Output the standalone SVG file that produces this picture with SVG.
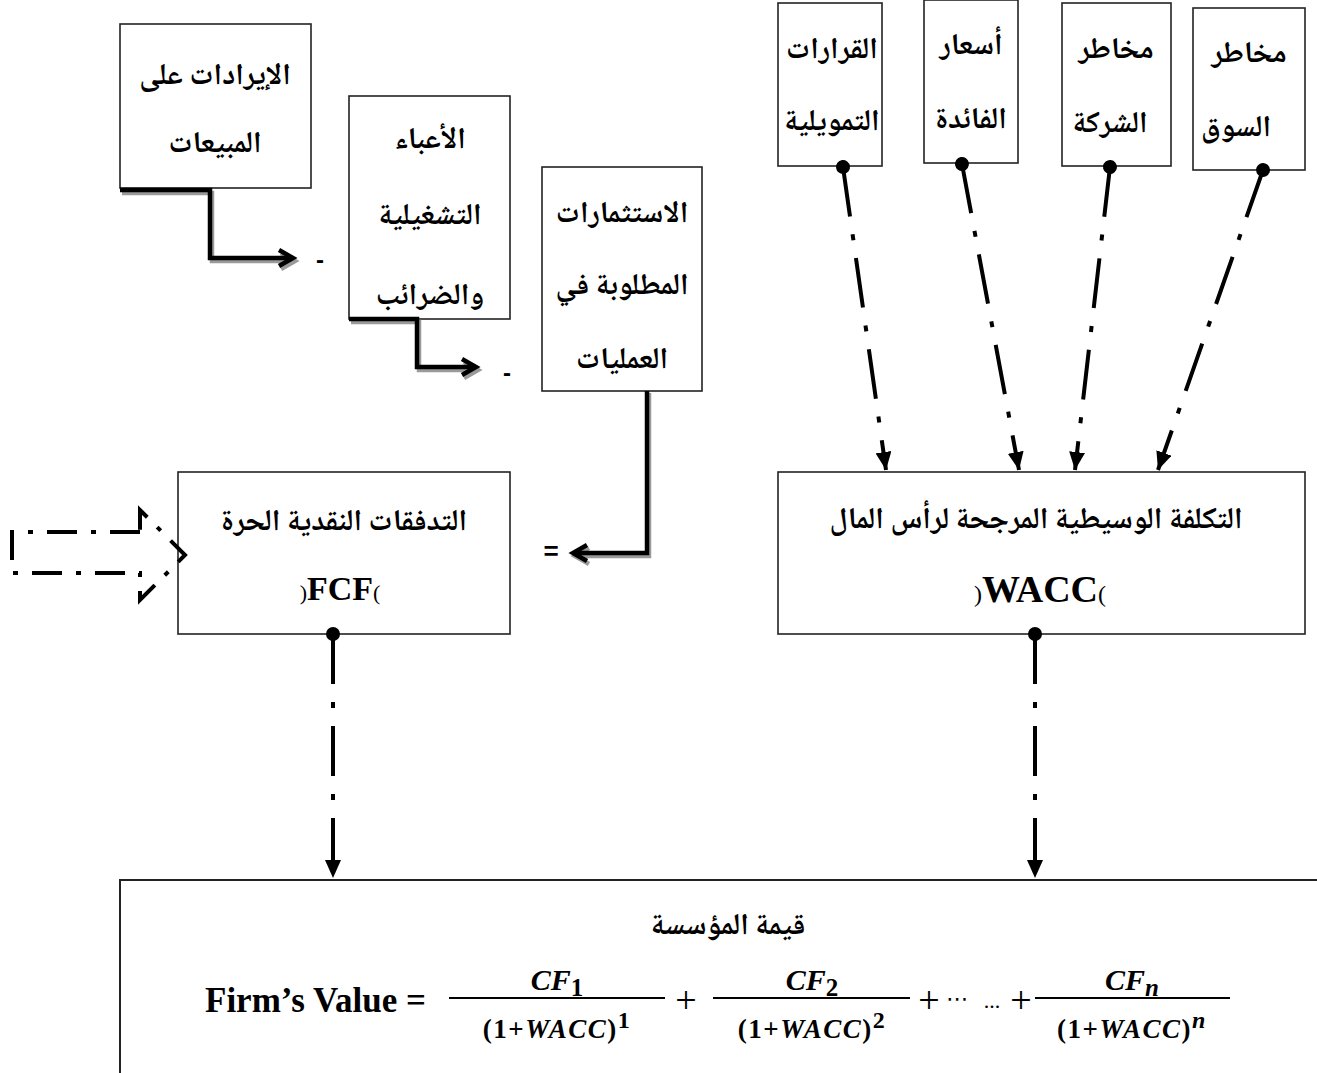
<svg xmlns="http://www.w3.org/2000/svg" width="1317" height="1073" viewBox="0 0 1317 1073">
<style>
.box{fill:#fff;stroke:#222;stroke-width:1.6}
.ar{font-family:'Noto Naskh Arabic','Amiri','DejaVu Sans','Noto Sans',sans-serif;font-weight:bold;font-size:30px;fill:#000;text-anchor:middle}
.lat{font-family:'Liberation Serif','Times New Roman',serif;font-weight:bold;fill:#000}
.dd{fill:none;stroke:#000;stroke-width:4;stroke-dasharray:50 18 6 18}
.elb{fill:none;stroke:#000;stroke-width:4.5}
.sh{fill:none;stroke:#9a9a9a;stroke-width:4.5}
.mth{font-family:'Liberation Serif','Times New Roman',serif;font-weight:bold;font-style:italic;fill:#000;text-anchor:middle}
.up{font-family:'Liberation Serif','Times New Roman',serif;font-weight:bold;font-style:normal}
.den{font-size:27px;letter-spacing:1.5px}
.op{font-family:'Liberation Serif',serif;font-size:38px;text-anchor:middle}
</style>
<defs>
<marker id="tri" markerUnits="userSpaceOnUse" markerWidth="18" markerHeight="16" refX="18" refY="8" orient="auto" viewBox="0 0 18 16">
<path d="M0,0 L18,8 L0,16 z" fill="#000"/>
</marker>
<marker id="dot" markerUnits="userSpaceOnUse" markerWidth="16" markerHeight="16" refX="8" refY="8" orient="auto" viewBox="0 0 16 16">
<circle cx="8" cy="8" r="7" fill="#000"/>
</marker>
<marker id="chev" markerUnits="userSpaceOnUse" markerWidth="22" markerHeight="22" refX="17" refY="11" orient="auto" viewBox="0 0 22 22">
<path d="M3,3 L17,11 L3,19" fill="none" stroke="#000" stroke-width="4.5" stroke-linejoin="miter"/>
</marker>
<marker id="chevs" markerUnits="userSpaceOnUse" markerWidth="22" markerHeight="22" refX="17" refY="11" orient="auto" viewBox="0 0 22 22">
<path d="M3,3 L17,11 L3,19" fill="none" stroke="#9a9a9a" stroke-width="4.5"/>
</marker>
</defs>

<g id="n-revenue">
<rect class="box" x="120" y="24" width="191" height="164"/>
<text class="ar" x="215" y="84">الإيرادات على</text>
<text class="ar" x="215" y="152">المبيعات</text>
</g>
<g id="n-opex">
<rect class="box" x="349" y="96" width="161" height="223"/>
<text class="ar" x="430" y="148">الأعباء</text>
<text class="ar" x="430" y="224">التشغيلية</text>
<text class="ar" x="430" y="304">والضرائب</text>
</g>
<g id="n-invest">
<rect class="box" x="542" y="167" width="160" height="224"/>
<text class="ar" x="622" y="222">الاستثمارات</text>
<text class="ar" x="622" y="294">المطلوبة في</text>
<text class="ar" x="622" y="368">العمليات</text>
</g>
<g id="n-fcf">
<rect class="box" x="178" y="472" width="332" height="162"/>
<text class="ar" x="344" y="530" font-size="31">التدفقات النقدية الحرة</text>
<text class="lat" x="340" y="600" font-size="34" text-anchor="middle"><tspan font-size="22" font-weight="normal">)</tspan>FCF<tspan font-size="22" font-weight="normal">(</tspan></text>
</g>
<g id="n-wacc">
<rect class="box" x="778" y="472" width="527" height="162"/>
<text class="ar" x="1036" y="528" font-size="33">التكلفة الوسيطية المرجحة لرأس المال</text>
<text class="lat" x="1040" y="602" font-size="38" text-anchor="middle"><tspan font-size="24" font-weight="normal">)</tspan>WACC<tspan font-size="24" font-weight="normal">(</tspan></text>
</g>
<g id="n-finance">
<rect class="box" x="778" y="3" width="104" height="163"/>
<text class="ar" x="832" y="58">القرارات</text>
<text class="ar" x="832" y="130">التمويلية</text>
</g>
<g id="n-interest">
<rect class="box" x="924" y="0" width="94" height="163"/>
<text class="ar" x="971" y="54">أسعار</text>
<text class="ar" x="971" y="128">الفائدة</text>
</g>
<g id="n-firmrisk">
<rect class="box" x="1062" y="3" width="109" height="163"/>
<text class="ar" x="1116" y="58">مخاطر</text>
<text class="ar" x="1110" y="132">الشركة</text>
</g>
<g id="n-marketrisk">
<rect class="box" x="1193" y="8" width="112" height="162"/>
<text class="ar" x="1249" y="62">مخاطر</text>
<text class="ar" x="1236" y="136">السوق</text>
</g>
<g id="n-value">
<path d="M120,1080 V880 H1330" fill="none" stroke="#222" stroke-width="2"/>
<text class="ar" x="728" y="934" font-size="32">قيمة المؤسسة</text>
<text class="lat" x="205" y="1012" font-size="35">Firm’s Value =</text>
<g>
<text class="mth" x="557" y="990" font-size="30">CF<tspan class="up" dy="6" font-size="25">1</tspan></text>
<line x1="449" y1="998" x2="665" y2="998" stroke="#000" stroke-width="2"/>
<text class="mth den" x="557" y="1038"><tspan class="up">(1+</tspan>WACC<tspan class="up">)</tspan><tspan class="up" dy="-10" font-size="24">1</tspan></text>
</g>
<text class="op" x="686" y="1013">+</text>
<g>
<text class="mth" x="812" y="990" font-size="30">CF<tspan class="up" dy="6" font-size="25">2</tspan></text>
<line x1="713" y1="998" x2="910" y2="998" stroke="#000" stroke-width="2"/>
<text class="mth den" x="812" y="1038"><tspan class="up">(1+</tspan>WACC<tspan class="up">)</tspan><tspan class="up" dy="-10" font-size="24">2</tspan></text>
</g>
<text class="op" x="929" y="1013">+</text>
<text x="957" y="1006" font-family="'DejaVu Sans',sans-serif" font-size="22" text-anchor="middle">⋯</text>
<text x="992" y="1008" font-family="'Liberation Serif',serif" font-size="22" text-anchor="middle">...</text>
<text class="op" x="1021" y="1013">+</text>
<g>
<text class="mth" x="1132" y="990" font-size="30">CF<tspan dy="6" font-size="25">n</tspan></text>
<line x1="1035" y1="998" x2="1230" y2="998" stroke="#000" stroke-width="2"/>
<text class="mth den" x="1132" y="1038"><tspan class="up">(1+</tspan>WACC<tspan class="up">)</tspan><tspan dy="-10" font-size="24">n</tspan></text>
</g>
</g>

<g id="connectors">
<path class="sh" d="M122,193 H212 V261 H295" marker-end="url(#chevs)"/>
<path class="elb" d="M120,190 H210 V258 H293" marker-end="url(#chev)"/>
<path class="sh" d="M351,322 H419 V370 H478" marker-end="url(#chevs)"/>
<path class="elb" d="M349,319 H417 V367 H476" marker-end="url(#chev)"/>
<path class="sh" d="M649,393 V556 H575" marker-end="url(#chevs)"/>
<path class="elb" d="M647,391 V553 H573" marker-end="url(#chev)"/>
<text x="320" y="268" font-family="'Liberation Sans',sans-serif" font-size="24" font-weight="bold" text-anchor="middle">-</text>
<text x="507" y="381" font-family="'Liberation Sans',sans-serif" font-size="24" font-weight="bold" text-anchor="middle">-</text>
<text x="551" y="560" font-family="'Liberation Sans',sans-serif" font-size="26" font-weight="bold" text-anchor="middle">=</text>
<path class="dd" d="M843,167 L886,470" marker-start="url(#dot)" marker-end="url(#tri)"/>
<path class="dd" d="M962,164 L1019,470" marker-start="url(#dot)" marker-end="url(#tri)"/>
<path class="dd" d="M1110,167 L1075,470" marker-start="url(#dot)" marker-end="url(#tri)"/>
<path class="dd" d="M1263,170 L1158,470" marker-start="url(#dot)" marker-end="url(#tri)"/>
<path class="dd" d="M333,634 V878" marker-start="url(#dot)" marker-end="url(#tri)"/>
<path class="dd" d="M1035,634 V878" marker-start="url(#dot)" marker-end="url(#tri)"/>
<path d="M140,532 H12 V573 H140 V600 L185,555 L140,510 Z" fill="none" stroke="#000" stroke-width="4" stroke-dasharray="30 14 5 14"/>
</g>
</svg>
